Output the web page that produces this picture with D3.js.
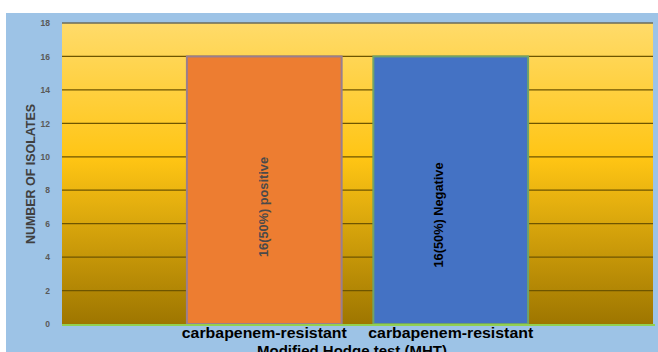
<!DOCTYPE html>
<html>
<head>
<meta charset="utf-8">
<script src="https://cdn.jsdelivr.net/npm/d3@7"></script>
<style>
  body { margin: 0; background: #fff; }
  svg { display: block; font-family: "Liberation Sans", Arial, sans-serif; }
</style>
</head>
<body>
<svg></svg>
<script>
// chart data
const categories = ['carbapenem-resistant', 'carbapenem-resistant'];
const values = [16, 16];
const barLabels = ['16(50%) positive', '16(50%) Negative'];
const barColors = ['#ED7D31', '#4472C4'];
const barEdges = ['#9A7E8E', '#6FA36A'];
const labelColors = ['#4a4a4a', '#000'];
const yTicks = [0, 2, 4, 6, 8, 10, 12, 14, 16, 18];

const width = 658;
const height = 352;
const plot = { left: 62, right: 653, top: 23, bottom: 324 };

let svg = d3.select('svg').attr('width', width).attr('height', height);

// blue chart background
svg.append('rect')
    .attr('x', 6).attr('y', 13)
    .attr('width', width - 6).attr('height', height - 13)
    .attr('fill', '#9DC3E6');

let defs = svg.append('defs');
let grad = defs.append('linearGradient')
    .attr('id', 'bg').attr('x1', 0).attr('y1', 0).attr('x2', 0).attr('y2', 1);
grad.append('stop').attr('offset', '0%').attr('stop-color', '#FFDB6A');
grad.append('stop').attr('offset', '45%').attr('stop-color', '#FFC514');
grad.append('stop').attr('offset', '100%').attr('stop-color', '#9E7600');

let xScale = d3.scaleBand()
    .domain(d3.range(categories.length))
    .range([plot.left, plot.right])
    .paddingInner(0.17)
    .paddingOuter(0.67);

let yScale = d3.scaleLinear()
    .domain([0, 18])
    .range([plot.bottom, plot.top]);

// plot area
svg.append('rect')
    .attr('x', plot.left).attr('y', plot.top)
    .attr('width', plot.right - plot.left).attr('height', plot.bottom - plot.top)
    .attr('fill', 'url(#bg)');

// gridlines
svg.append('g')
    .selectAll('line')
    .data(yTicks.slice(1))
    .enter()
    .append('line')
    .attr('x1', plot.left).attr('x2', plot.right)
    .attr('y1', d => yScale(d)).attr('y2', d => yScale(d))
    .attr('stroke', d => d === 18 ? '#6b6b5a' : '#6e5500')
    .attr('stroke-width', 1.3);

// y tick labels
let yAxis = d3.axisLeft(yScale).tickValues(yTicks).tickSize(0).tickPadding(12);
let yg = svg.append('g')
    .attr('transform', 'translate(' + plot.left + ', 0)')
    .call(yAxis);
yg.select('.domain').remove();
yg.selectAll('text')
    .attr('fill', '#595959')
    .attr('font-size', 8.5)
    .attr('font-weight', 'bold')
    .attr('font-family', '"Liberation Sans", Arial, sans-serif');

// bars
svg.append('g')
    .selectAll('rect')
    .data(values)
    .enter()
    .append('rect')
    .attr('x', (d, i) => xScale(i))
    .attr('y', d => yScale(d))
    .attr('width', xScale.bandwidth())
    .attr('height', d => yScale(0) - yScale(d))
    .attr('fill', (d, i) => barColors[i])
    .attr('stroke', (d, i) => barEdges[i])
    .attr('stroke-width', 2);

// bar labels
const labelShift = [4, -8];
const labelMid = [207, 215];
svg.append('g')
    .selectAll('text')
    .data(values)
    .enter()
    .append('text')
    .attr('transform', (d, i) => 'translate(' + (xScale(i) + xScale.bandwidth() / 2 + labelShift[i]) + ',' + labelMid[i] + ') rotate(-90)')
    .attr('text-anchor', 'middle')
    .attr('font-size', 13)
    .attr('font-weight', 'bold')
    .attr('fill', (d, i) => labelColors[i])
    .attr('textLength', (d, i) => i === 0 ? 100 : 105)
    .attr('lengthAdjust', 'spacingAndGlyphs')
    .text((d, i) => barLabels[i]);

// x axis line
svg.append('line')
    .attr('x1', plot.left).attr('x2', plot.right + 2)
    .attr('y1', plot.bottom + 1).attr('y2', plot.bottom + 1)
    .attr('stroke', '#92D050').attr('stroke-width', 2);

// category labels
let xAxis = d3.axisBottom(xScale).tickFormat(i => categories[i]).tickSize(0).tickPadding(4);
let xg = svg.append('g')
    .attr('transform', 'translate(0, ' + plot.bottom + ')')
    .call(xAxis);
xg.select('.domain').remove();
xg.selectAll('text')
    .attr('fill', '#000')
    .attr('font-size', 14)
    .attr('font-weight', 'bold')
    .attr('textLength', 165)
    .attr('lengthAdjust', 'spacingAndGlyphs')
    .attr('font-family', '"Liberation Sans", Arial, sans-serif');

// axis titles
svg.append('text')
    .attr('x', 352).attr('y', 356)
    .attr('text-anchor', 'middle')
    .attr('font-size', 14)
    .attr('font-weight', 'bold')
    .attr('fill', '#000')
    .attr('textLength', 190)
    .attr('lengthAdjust', 'spacingAndGlyphs')
    .text('Modified Hodge test (MHT)');

svg.append('text')
    .attr('transform', 'translate(35, 174) rotate(-90)')
    .attr('text-anchor', 'middle')
    .attr('font-size', 12.5)
    .attr('font-weight', 'bold')
    .attr('fill', '#404040')
    .attr('textLength', 140)
    .attr('lengthAdjust', 'spacingAndGlyphs')
    .text('NUMBER OF ISOLATES');
</script>
</body>
</html>
